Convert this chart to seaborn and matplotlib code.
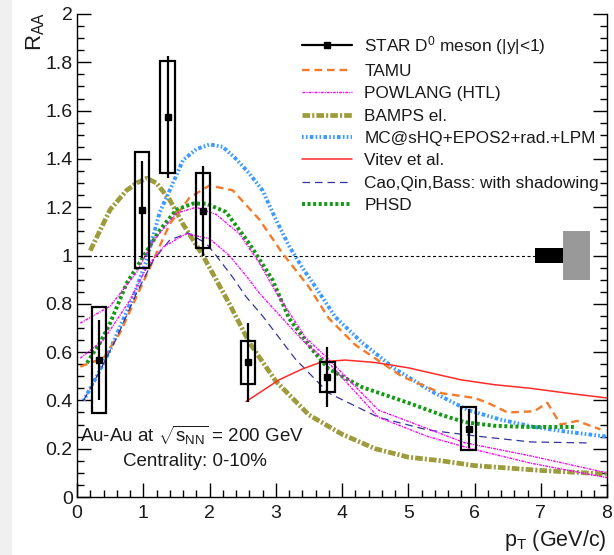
import numpy as np
import pandas as pd
import matplotlib
matplotlib.use("Agg")
import matplotlib.pyplot as plt
import seaborn as sns
from matplotlib.patches import Rectangle
from matplotlib.lines import Line2D
from matplotlib.ticker import MultipleLocator, FuncFormatter

# ---------------- data ----------------
star_pt = [0.33, 0.98, 1.37, 1.90, 2.58, 3.78, 5.91]
star_raa = [0.567, 1.19, 1.573, 1.185, 0.557, 0.498, 0.283]
star_stat = [0.166, 0.20, 0.253, 0.185, 0.163, 0.125, 0.08]
star_sys = [0.22, 0.24, 0.233, 0.155, 0.09, 0.062, 0.088]

tamu_pt = [0.05, 0.4, 0.65, 0.9, 1.15, 1.4, 1.7, 2.0, 2.35, 2.75, 3.1, 3.5, 3.8, 4.2, 4.9, 5.5, 6.0, 6.2, 6.5, 6.9, 7.1, 7.3, 7.55, 7.9]
tamu_raa = [0.54, 0.575, 0.68, 0.83, 0.98, 1.13, 1.24, 1.29, 1.27, 1.15, 1.01, 0.87, 0.74, 0.63, 0.50, 0.43, 0.41, 0.39, 0.35, 0.355, 0.39, 0.30, 0.315, 0.28]

powlang_a_pt = [0.05, 0.5, 0.9, 1.15, 1.5, 1.8, 2.1, 2.45, 2.75, 3.0, 3.45, 3.8, 4.55, 5.85, 6.85, 8.0]
powlang_a_raa = [0.72, 0.79, 0.93, 1.06, 1.175, 1.2, 1.17, 1.09, 0.97, 0.85, 0.66, 0.57, 0.36, 0.225, 0.17, 0.10]
powlang_b_pt = [0.05, 0.4, 0.8, 1.05, 1.3, 1.65, 2.0, 2.3, 2.6, 2.75, 3.0, 3.4, 3.8, 4.55, 5.3, 5.95, 6.85, 8.0]
powlang_b_raa = [0.575, 0.65, 0.815, 0.95, 1.035, 1.09, 1.07, 1.0, 0.9, 0.845, 0.77, 0.65, 0.555, 0.33, 0.25, 0.20, 0.14, 0.08]

bamps_pt = [0.2, 0.5, 0.75, 0.9, 1.05, 1.2, 1.4, 1.6, 1.9, 2.3, 2.6, 3.0, 3.5, 4.0, 4.5, 5.0, 5.5, 6.0, 7.0, 8.0]
bamps_raa = [1.02, 1.19, 1.27, 1.30, 1.32, 1.30, 1.23, 1.13, 1.0, 0.8, 0.64, 0.48, 0.34, 0.26, 0.20, 0.165, 0.15, 0.13, 0.11, 0.095]

mcshq_pt = [0.1, 0.3, 0.5, 0.85, 1.05, 1.25, 1.4, 1.6, 1.8, 2.0, 2.2, 2.4, 2.6, 2.8, 3.0, 3.2, 3.4, 3.6, 3.9, 4.3, 4.8, 5.4, 5.9, 6.4, 6.9, 7.4, 8.0]
mcshq_raa = [0.40, 0.50, 0.61, 0.83, 0.98, 1.18, 1.27, 1.395, 1.44, 1.46, 1.45, 1.40, 1.34, 1.27, 1.15, 1.04, 0.95, 0.87, 0.745, 0.64, 0.53, 0.43, 0.36, 0.32, 0.29, 0.27, 0.25]

vitev_pt = [2.55, 2.8, 3.05, 3.4, 3.7, 4.05, 4.5, 5.0, 5.35, 5.8, 6.3, 6.85, 7.4, 8.0]
vitev_raa = [0.395, 0.44, 0.485, 0.53, 0.56, 0.567, 0.557, 0.535, 0.513, 0.485, 0.465, 0.45, 0.43, 0.41]

cao_pt = [0.1, 0.35, 0.6, 0.9, 1.15, 1.4, 1.68, 1.95, 2.1, 2.35, 2.55, 2.8, 3.3, 3.8, 4.55, 5.3, 6.1, 6.85, 7.7]
cao_raa = [0.40, 0.525, 0.66, 0.845, 0.98, 1.064, 1.093, 1.05, 1.0, 0.91, 0.83, 0.75, 0.57, 0.43, 0.33, 0.277, 0.25, 0.228, 0.224]

phsd_pt = [0.15, 0.35, 0.5, 0.75, 1.0, 1.25, 1.5, 1.75, 1.95, 2.25, 2.6, 2.95, 3.2, 3.55, 3.8, 4.3, 5.0, 5.5, 5.85, 6.3, 6.8, 7.5]
phsd_raa = [0.555, 0.64, 0.72, 0.885, 0.995, 1.105, 1.19, 1.215, 1.215, 1.18, 1.05, 0.90, 0.74, 0.61, 0.53, 0.455, 0.39, 0.34, 0.31, 0.295, 0.29, 0.29]

ref_level = 1.0
ref_line_end = 6.91
norm_stat_x = [6.91, 7.33]
norm_stat_half = 0.033
norm_sys_x = [7.33, 7.74]
norm_sys_half = 0.103

x_ticks = [0, 1, 2, 3, 4, 5, 6, 7, 8]
y_ticks = [0, 0.2, 0.4, 0.6, 0.8, 1.0, 1.2, 1.4, 1.6, 1.8, 2.0]

legend_labels = ["STAR D$^{0}$ meson (|y|<1)", "TAMU", "POWLANG (HTL)", "BAMPS el.",
                 "MC@sHQ+EPOS2+rad.+LPM", "Vitev et al.", "Cao,Qin,Bass: with shadowing", "PHSD"]

# ---------------- style ----------------
sns.set_style("ticks")
plt.rcParams["font.family"] = ["Liberation Sans", "DejaVu Sans"]
plt.rcParams["mathtext.fontset"] = "custom"
plt.rcParams["mathtext.rm"] = "Liberation Sans"
plt.rcParams["mathtext.it"] = "Liberation Sans:italic"
plt.rcParams["mathtext.bf"] = "Liberation Sans:bold"
plt.rcParams["lines.scale_dashes"] = False

TXT = "#1a1a1a"

styles = {
    "TAMU": dict(color="#f47a2a", lw=1.7, dashes=(5.5, 3.5)),
    "POWLANG": dict(color="#ff00ff", lw=1.0, dashes=(2.0, 0.8, 0.8, 0.8)),
    "BAMPS": dict(color="#9c9c3c", lw=3.4, dashes=(5.5, 1.5, 1.5, 1.5)),
    "MCSHQ": dict(color="#3d9bff", lw=2.8, dashes=(1.2, 1.6, 1.2, 1.6, 2.6, 1.6)),
    "Vitev": dict(color="#ff2a2a", lw=1.1, dashes=None),
    "Cao": dict(color="#34349c", lw=0.9, dashes=(5.5, 3.5)),
    "PHSD": dict(color="#159a15", lw=2.8, dashes=(2.2, 1.8)),
}

fig = plt.figure(figsize=(6.14, 5.55), dpi=100)
fig.patch.set_facecolor("white")
fig.patches.append(Rectangle((0, 0), 12 / 614, 1, transform=fig.transFigure,
                             facecolor="#f0f0f0", edgecolor="none", zorder=0))
ax = fig.add_axes([77 / 614, 1 - 497 / 555, 530 / 614, 483 / 555])
ax.set_facecolor("white")


def draw(pt, raa, key, z=3):
    st = styles[key]
    df = pd.DataFrame({"pt": pt, "raa": raa})
    sns.lineplot(data=df, x="pt", y="raa", ax=ax, color=st["color"], lw=st["lw"],
                 errorbar=None, sort=False, zorder=z)
    line = ax.get_lines()[-1]
    if st["dashes"] is not None:
        line.set_dashes(st["dashes"])
    line.set_dash_capstyle("butt")
    return line


# reference line and normalisation boxes
ax.hlines(ref_level, x_ticks[0], ref_line_end, colors="black", lw=0.8,
          linestyles=(0, (2.2, 1.8)), zorder=2)
ax.add_patch(Rectangle((norm_stat_x[0], ref_level - norm_stat_half), norm_stat_x[1] - norm_stat_x[0],
                       2 * norm_stat_half, facecolor="black", edgecolor="none", zorder=4))
ax.add_patch(Rectangle((norm_sys_x[0], ref_level - norm_sys_half), norm_sys_x[1] - norm_sys_x[0],
                       2 * norm_sys_half, facecolor="#999999", edgecolor="none", zorder=4))

draw(bamps_pt, bamps_raa, "BAMPS")
draw(mcshq_pt, mcshq_raa, "MCSHQ")
draw(tamu_pt, tamu_raa, "TAMU")
draw(phsd_pt, phsd_raa, "PHSD")
draw(cao_pt, cao_raa, "Cao")
draw(powlang_a_pt, powlang_a_raa, "POWLANG")
draw(powlang_b_pt, powlang_b_raa, "POWLANG")
draw(vitev_pt, vitev_raa, "Vitev")

# STAR data: systematic boxes + stat errors
box_w = 0.22
for x, y, s in zip(star_pt, star_raa, star_sys):
    ax.add_patch(Rectangle((x - box_w / 2, y - s), box_w, 2 * s, facecolor="none",
                           edgecolor="black", lw=1.6, zorder=6))
ax.errorbar(star_pt, star_raa, yerr=star_stat, fmt="s", color="black", ms=4.5,
            elinewidth=1.6, capsize=0, zorder=7)

# axes
ax.set_xlim(0, 8)
ax.set_ylim(0, 2)
ax.set_xticks(x_ticks)
ax.set_yticks(y_ticks)
ax.xaxis.set_minor_locator(MultipleLocator(0.2))
ax.yaxis.set_minor_locator(MultipleLocator(0.05))
ax.yaxis.set_major_formatter(FuncFormatter(lambda v, p: "%g" % round(v, 2)))
ax.xaxis.set_major_formatter(FuncFormatter(lambda v, p: "%g" % v))
ax.tick_params(which="both", direction="in", left=True, right=True, bottom=True, top=False,
               width=1.0, colors="black", labelcolor=TXT)
ax.tick_params(which="major", length=10)
ax.tick_params(which="minor", length=5)
ax.tick_params(axis="y", labelsize=14, pad=3)
ax.tick_params(axis="x", labelsize=14, pad=6)
ax.spines["top"].set_visible(False)
for s in ["left", "right", "bottom"]:
    ax.spines[s].set_linewidth(1.0)
    ax.spines[s].set_color("black")
ax.set_xlabel("")
ax.set_ylabel("")

fig.text(36 / 614, 1 - 12 / 555, r"R$_{\mathregular{AA}}$", rotation=90, ha="center", va="top",
         fontsize=16, color=TXT)
fig.text(607 / 614, (555 - 546) / 555, r"$\mathregular{p_{T}}$ (GeV/c)", ha="right", va="baseline",
         fontsize=15.5, color=TXT)

ax.text(0.05, 0.255, r"Au-Au at $\sqrt{\mathregular{s_{NN}}}$ = 200 GeV", ha="left", va="center",
        fontsize=13.5, color=TXT)
ax.text(1.78, 0.145, "Centrality: 0-10%", ha="center", va="center", fontsize=13.5, color=TXT)

# legend
def h(key):
    st = styles[key]
    ln = Line2D([], [], color=st["color"], lw=st["lw"])
    if st["dashes"] is not None:
        ln.set_dashes(st["dashes"])
    ln.set_dash_capstyle("butt")
    return ln

handles = [Line2D([], [], color="black", lw=1.6, marker="s", ms=4.5),
           h("TAMU"), h("POWLANG"), h("BAMPS"), h("MCSHQ"), h("Vitev"), h("Cao"), h("PHSD")]
leg = ax.legend(handles, legend_labels, loc="upper left", bbox_to_anchor=((302 - 77) / 530, (497 - 34) / 483),
                frameon=False, fontsize=12.4, handlelength=2.9, handletextpad=0.72, labelspacing=0.42,
                borderpad=0, borderaxespad=0)
for t in leg.get_texts():
    t.set_color(TXT)

fig.savefig("out.png", dpi=100, facecolor="white")
